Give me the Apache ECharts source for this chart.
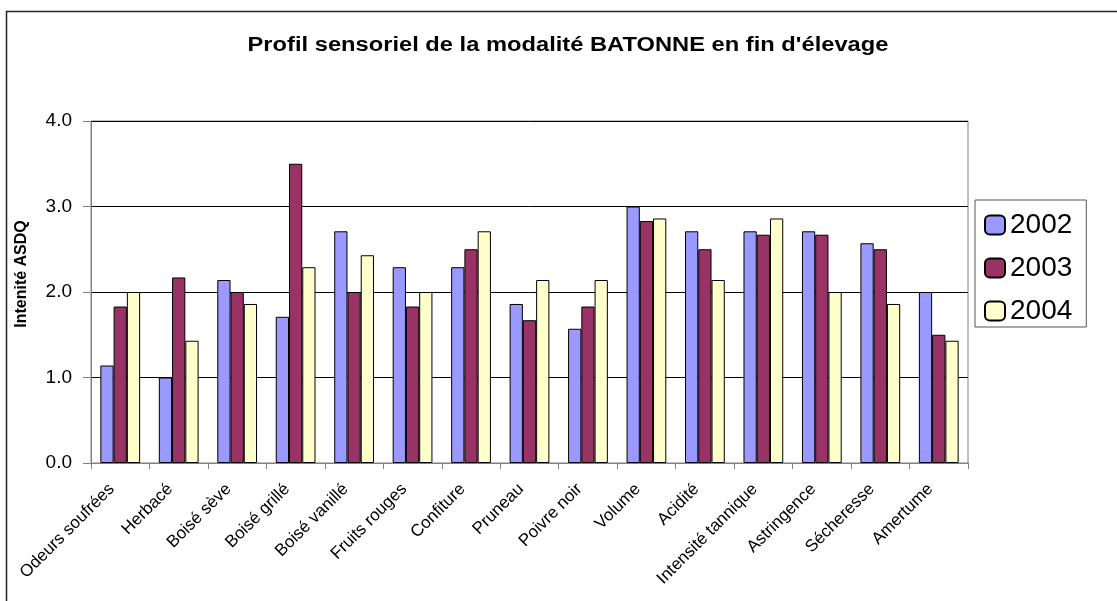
<!DOCTYPE html>
<html>
<head>
<meta charset="utf-8">
<script src="https://cdn.jsdelivr.net/npm/echarts@6/dist/echarts.min.js"></script>
<style>
html,body{margin:0;padding:0;background:#fff;}
#chart{width:1117px;height:601px;}
</style>
</head>
<body>
<div id="chart"></div>
<script>
const categories = ['Odeurs soufrées','Herbacé','Boisé sève','Boisé grillé','Boisé vanillé','Fruits rouges','Confiture','Pruneau','Poivre noir','Volume','Acidité','Intensité tannique','Astringence','Sécheresse','Amertume'];
const seriesNames = ['2002','2003','2004'];
const values2002 = [1.14,1.00,2.14,1.71,2.71,2.29,2.29,1.86,1.57,3.00,2.71,2.71,2.71,2.57,2.00];
const values2003 = [1.83,2.17,2.00,3.50,2.00,1.83,2.50,1.67,1.83,2.83,2.50,2.67,2.67,2.50,1.50];
const values2004 = [2.00,1.43,1.86,2.29,2.43,2.00,2.71,2.14,2.14,2.86,2.14,2.86,2.00,1.86,1.43];
const yTicks = [0,1,2,3,4];
const titleText = "Profil sensoriel de la modalité BATONNE en fin d'élevage";
const yAxisTitle = 'Intenité ASDQ';
const colors = ['#9999FF','#993366','#FFFFCC'];

const FONT = '"Liberation Sans", Arial, sans-serif';
const chart = echarts.init(document.getElementById('chart'), null, {renderer:'canvas'});
const allValues = [values2002, values2003, values2004];

chart.setOption({
  animation:false,
  backgroundColor:'#fff',
  color: colors,
  legend:{
    orient:'vertical', left:975, top:200,
    padding:[11,14,2,9],
    itemWidth:20, itemHeight:19, itemGap:15,
    borderColor:'#555', borderWidth:1,
    textStyle:{fontFamily:FONT, fontSize:28, color:'#000'},
    data: seriesNames
  },
  grid:{left:91, right:149, top:121, bottom:138, show:true, borderColor:'#808080', borderWidth:1, containLabel:false},
  xAxis:{
    type:'category', data:categories,
    axisLine:{lineStyle:{color:'#808080', width:1}},
    axisTick:{show:true, length:6, inside:false, alignWithLabel:false, lineStyle:{color:'#808080'}},
    axisLabel:{rotate:45, fontFamily:FONT, fontSize:17, color:'#000', margin:15, padding:[0,12,0,0], interval:0},
    splitLine:{show:false}
  },
  yAxis:{
    type:'value', min:yTicks[0], max:yTicks[yTicks.length-1], interval:1,
    axisLine:{show:true, lineStyle:{color:'#808080', width:1}},
    axisTick:{show:true, length:8, lineStyle:{color:'#808080'}},
    axisLabel:{fontFamily:FONT, fontSize:19, color:'#000', margin:19, formatter:v=>v.toFixed(1)},
    splitLine:{show:true, lineStyle:{color:'#000', width:1}}
  },
  graphic:[
    {type:'rect', shape:{x:6.5, y:11.5, width:1300, height:800}, style:{fill:'none', stroke:'#222', lineWidth:1.5}, silent:true, z:-1},
    {type:'text', x:568, y:45, scaleX:1.185, style:{text:titleText, fontFamily:FONT, fontWeight:'bold', fontSize:20, fill:'#000', align:'center', verticalAlign:'middle'}},
    {type:'text', x:22, y:274, rotation:Math.PI/2, style:{text:yAxisTitle, fontFamily:FONT, fontWeight:'bold', fontSize:16, fill:'#000', align:'center', verticalAlign:'middle'}}
  ],
  series: seriesNames.map((n,i)=>({
    name:n, type:'bar', data:allValues[i],
    barGap:'0%', barCategoryGap:'32%',
    itemStyle:{color:colors[i], borderColor:'#000', borderWidth:1}
  }))
});
</script>
</body>
</html>
